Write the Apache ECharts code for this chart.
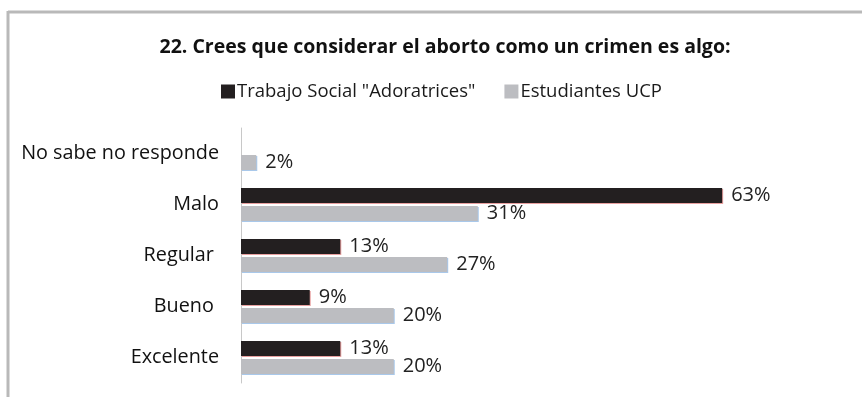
<!DOCTYPE html>
<html>
<head>
<meta charset="utf-8">
<script src="https://cdn.jsdelivr.net/npm/echarts@6/dist/echarts.min.js"></script>
<style>
  html, body { margin: 0; padding: 0; background: #ffffff; }
  #chart { width: 862px; height: 397px; }
</style>
</head>
<body>
<div id="chart"></div>
<script>
// Answer options, listed bottom-to-top as the category axis draws them
const categories = ['Excelente', 'Bueno ', 'Regular ', 'Malo', 'No sabe no responde'];
// Percentages per group
const trabajoSocial = [13, 9, 13, 63, 0];
const estudiantesUCP = [20, 20, 27, 31, 2];
const seriesNames = ['Trabajo Social "Adoratrices"', 'Estudiantes UCP'];
const titleText = '22. Crees que considerar el aborto como un crimen es algo:';

const FONT = '"Open Sans", "Noto Sans", sans-serif';

const chart = echarts.init(document.getElementById('chart'), null, { renderer: 'canvas' });

const labelStyle = {
  show: true,
  position: 'right',
  distance: 9,
  color: '#222222',
  fontFamily: FONT,
  fontSize: 20,
  formatter: p => (p.value > 0 ? p.value + '%' : '')
};

chart.setOption({
  backgroundColor: '#ffffff',
  animation: false,
  title: {
    text: titleText,
    left: 440,
    textAlign: 'center',
    top: 32,
    textStyle: { fontFamily: FONT, fontWeight: 'bold', fontSize: 19.5, color: '#111111' }
  },
  legend: {
    top: 77,
    left: 216,
    itemWidth: 14,
    itemHeight: 14,
    itemGap: 29,
    icon: 'rect',
    textStyle: { fontFamily: FONT, fontSize: 18.5, color: '#1a1a1a', padding: [0, 0, 0, -3] },
    data: seriesNames
  },
  grid: { left: 241, top: 128, height: 255, width: 611 },
  xAxis: {
    type: 'value',
    min: 0,
    max: 80,
    show: false
  },
  yAxis: {
    type: 'category',
    data: categories,
    axisLine: { show: true, lineStyle: { color: '#c8c8c8', width: 1 } },
    axisTick: { show: false },
    axisLabel: { fontFamily: FONT, fontSize: 19.8, color: '#111111', margin: 22 }
  },
  series: [
    {
      name: seriesNames[0],
      type: 'bar',
      data: trabajoSocial,
      barWidth: 15,
      barGap: '20%',
      itemStyle: {
        color: '#231f20',
        shadowColor: '#e8a0a0',
        shadowOffsetX: 1,
        shadowOffsetY: 1,
        shadowBlur: 0
      },
      label: labelStyle
    },
    {
      name: seriesNames[1],
      type: 'bar',
      data: estudiantesUCP,
      barWidth: 15,
      itemStyle: {
        color: '#bcbdc1',
        shadowColor: '#a9c8ea',
        shadowOffsetX: 1,
        shadowOffsetY: 1,
        shadowBlur: 0
      },
      label: labelStyle
    }
  ],
  graphic: [
    { type: 'line', shape: { x1: 8, y1: 12, x2: 862, y2: 12 }, style: { stroke: '#b9b9b9', lineWidth: 3 } },
    { type: 'line', shape: { x1: 8, y1: 11, x2: 8, y2: 397 }, style: { stroke: '#b9b9b9', lineWidth: 3 } }
  ]
});
</script>
</body>
</html>
